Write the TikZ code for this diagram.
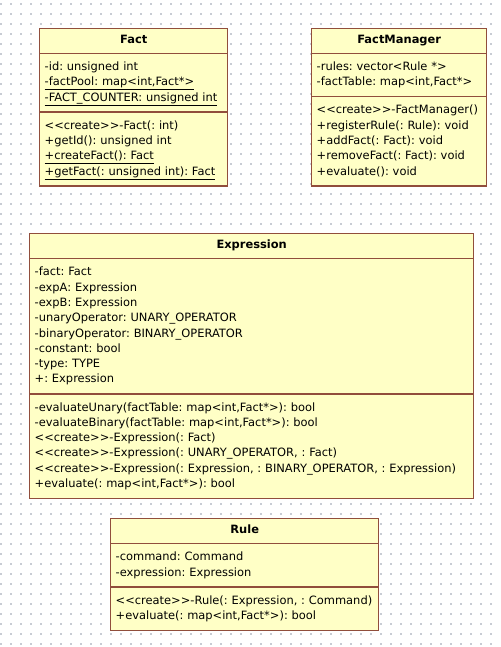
\documentclass[tikz,border=0pt]{standalone}
\usepackage{fontspec}
\newfontfamily\umlfont{DejaVu Sans}
\usetikzlibrary{shapes.multipart}
\definecolor{classfill}{RGB}{255,255,198}
\definecolor{classline}{RGB}{145,78,60}
\definecolor{griddot}{RGB}{200,204,212}
\newcommand{\classtitle}[1]{\hbox to \hsize{\hfil\rule[-3.5pt]{0pt}{11pt}\textbf{#1}\hfil}}

\begin{document}
\begin{tikzpicture}[
  x=1pt, y=-1pt,
  umlclass/.style={
    draw=classline, line width=1.4pt, fill=classfill,
    rectangle split, rectangle split parts=3,
    anchor=north west, align=left, text width=#1,
    inner xsep=5pt, inner ysep=5.7pt,
    font=\umlfont\fontsize{11.45}{15.3}\selectfont\frenchspacing
  },
  dot/.style={fill=griddot, draw=none}
]

% dotted drawing sheet
\useasboundingbox (0,0) rectangle (500,647);
\fill[white] (0,0) rectangle (500,647);
\foreach \gx in {1,11,...,491} {
  \foreach \gy in {4,14,...,644} {
    \fill[dot] (\gx-0.6,\gy-0.6) rectangle (\gx+0.6,\gy+0.6);
  }
}

% classes
\node[umlclass=178pt] (fact) at (39,28) {
  \classtitle{Fact}
  \nodepart{second}
  \strut-id: unsigned int\\
  \underline{-factPool: map<int,Fact*>}\\
  \underline{-FACT\_COUNTER: unsigned int}\strut
  \nodepart{third}
  \strut<<create>>-Fact(: int)\\
  +getId(): unsigned int\\
  \underline{+createFact(): Fact}\\
  \underline{+getFact(: unsigned int): Fact}\strut
};

\node[umlclass=165pt] (factmgr) at (311,28) {
  \classtitle{FactManager}
  \nodepart{second}
  \strut-rules: vector<Rule *>\\
  -factTable: map<int,Fact*>\strut
  \nodepart{third}
  \strut<<create>>-FactManager()\\
  +registerRule(: Rule): void\\
  +addFact(: Fact): void\\
  +removeFact(: Fact): void\\
  +evaluate(): void\strut
};

\node[umlclass=434pt] (expr) at (29,233) {
  \classtitle{Expression}
  \nodepart{second}
  \strut-fact: Fact\\
  -expA: Expression\\
  -expB: Expression\\
  -unaryOperator: UNARY\_OPERATOR\\
  -binaryOperator: BINARY\_OPERATOR\\
  -constant: bool\\
  -type: TYPE\\
  +: Expression\strut
  \nodepart{third}
  \strut-evaluateUnary(factTable: map<int,Fact*>): bool\\
  -evaluateBinary(factTable: map<int,Fact*>): bool\\
  <<create>>-Expression(: Fact)\\
  <<create>>-Expression(: UNARY\_OPERATOR, : Fact)\\
  <<create>>-Expression(: Expression, : BINARY\_OPERATOR, : Expression)\\
  +evaluate(: map<int,Fact*>): bool\strut
};

\node[umlclass=258pt] (rule) at (110,518) {
  \classtitle{Rule}
  \nodepart{second}
  \strut-command: Command\\
  -expression: Expression\strut
  \nodepart{third}
  \strut\mbox{<<create>>-Rule(: Expression, : Command)}\\
  +evaluate(: map<int,Fact*>): bool\strut
};

\end{tikzpicture}
\end{document}
